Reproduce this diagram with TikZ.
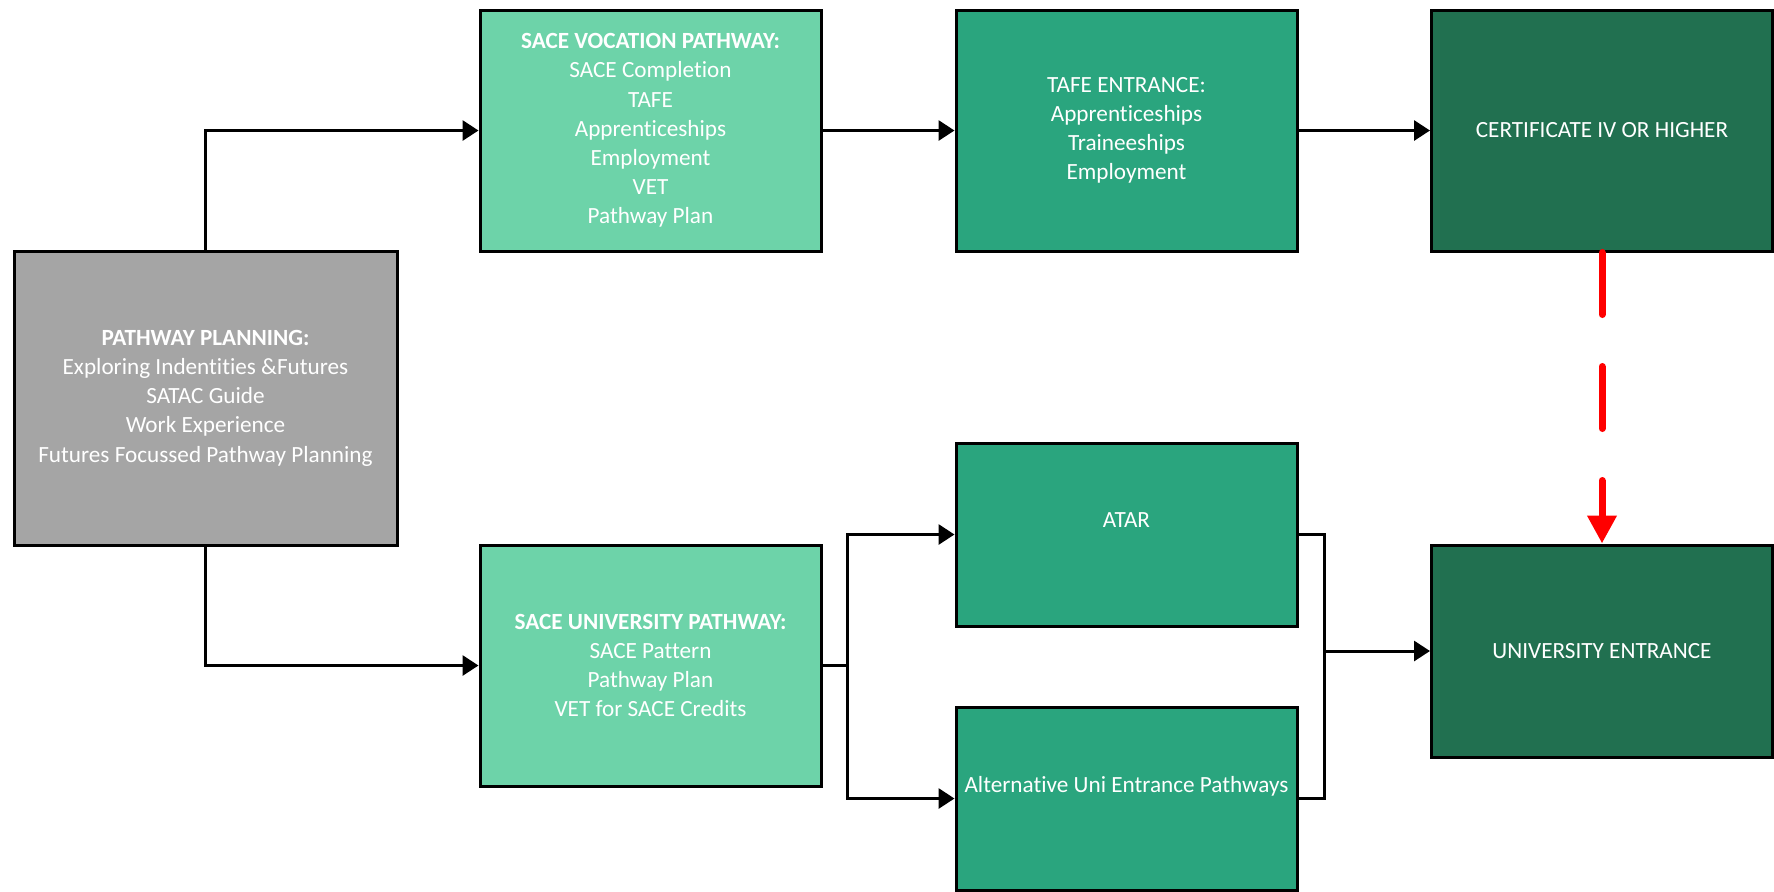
\documentclass[tikz,border=0pt]{standalone}
\usepackage{fontspec}
\setmainfont{Carlito}[Ligatures=NoCommon]
\usetikzlibrary{arrows.meta, positioning}

\definecolor{plangray}{RGB}{165,165,165}
\definecolor{mint}{RGB}{109,211,169}
\definecolor{midgreen}{RGB}{42,165,126}
\definecolor{darkgreen}{RGB}{33,112,80}

\begin{document}
\begin{tikzpicture}[
  x=0.5pt, y=-0.5pt,
  box/.style={draw, line width=1.5pt, text=white, align=center, inner sep=2pt,
    font=\fontsize{11.6}{14.6}\selectfont, minimum width=170.5pt, minimum height=120.5pt},
  plan/.style={box, fill=plangray, minimum width=191.5pt, minimum height=147pt},
  sace/.style={box, fill=mint},
  entrance/.style={box, fill=midgreen},
  route/.style={box, fill=midgreen, minimum height=91.5pt, text depth=14pt},
  goal/.style={box, fill=darkgreen},
  conn/.style={draw, line width=1.5pt, -{Triangle[length=8pt,width=10pt]}},
  bridge/.style={draw=red, line width=3.5pt, line cap=round, dash pattern=on 31pt off 26pt,
    -{Triangle[length=14pt,width=14pt]}}
]
\useasboundingbox (0,0) rectangle (1774,891);

% boxes
\node[plan] (planning) at (205.5,398) {\textbf{PATHWAY PLANNING:}\\Exploring Indentities \&Futures\\SATAC Guide\\Work Experience\\Futures Focussed Pathway Planning};
\node[sace] (vocation) at (650.5,130.5) {\textbf{SACE VOCATION PATHWAY:}\\SACE Completion\\TAFE\\Apprenticeships\\Employment\\VET\\Pathway Plan};
\node[entrance] (tafe) at (1126.5,130.5) {TAFE ENTRANCE:\\Apprenticeships\\Traineeships\\Employment};
\node[goal] (cert) at (1602,130.5) {CERTIFICATE IV OR HIGHER};
\node[sace] (university) at (650.5,665.5) {\textbf{SACE UNIVERSITY PATHWAY:}\\SACE Pattern\\Pathway Plan\\VET for SACE Credits};
\node[route] (atar) at (1126.5,534.5) {ATAR};
\node[route] (alternative) at (1126.5,798.5) {Alternative Uni Entrance Pathways};
\node[goal, minimum height=106pt] (uni) at (1602,651) {UNIVERSITY ENTRANCE};

% connectors
\coordinate (split) at (847,665.5);
\coordinate (join) at (1324,651);
\draw[conn] (planning.north) |- (vocation.west);
\draw[conn] (planning.south) |- (university.west);
\draw[conn] (vocation) -- (tafe);
\draw[conn] (tafe) -- (cert);
\draw[line width=1.5pt] (university.east) -- (split);
\draw[conn] (split) |- (atar.west);
\draw[conn] (split) |- (alternative.west);
\draw[line width=1.5pt] (atar.east) -| (join) |- (alternative.east);
\draw[conn] (join) -- (uni.west);
\draw[bridge] (cert.south) -- (uni.north);
\end{tikzpicture}
\end{document}
